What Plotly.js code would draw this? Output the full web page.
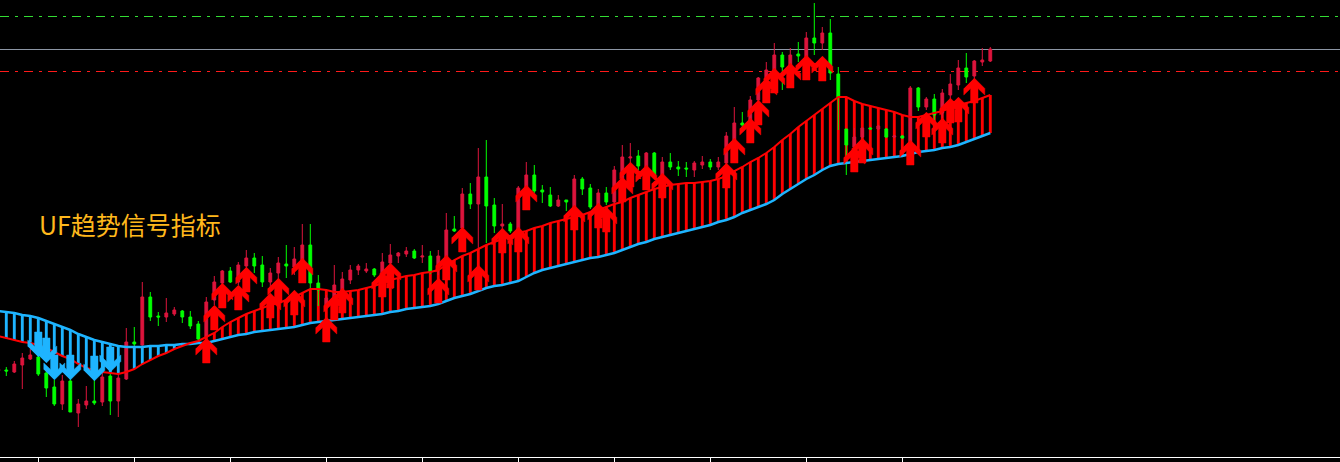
<!DOCTYPE html>
<html><head><meta charset="utf-8">
<script src="https://cdn.plot.ly/plotly-3.0.1.min.js"></script>
<style>html,body{margin:0;padding:0;background:#000;overflow:hidden}#chart{width:1340px;height:462px}</style>
</head><body><div id="chart"></div>
<script>
// ---- data (price units) ----
const open  = [86,87,85,92,98,100,84,70,53,76,44,52,56,55,81,56,78,115,112,160,141,140,143,146,140,133,120,157,174,186,175,191,199,192,175,184,193,190,195,212,174,152,157,165,177,187,186,188,172,194,201,203,206,200,201,189,197,228,229,263,253,280,252,231,233,227,265,282,267,262,251,257,247,278,269,252,264,255,277,299,301,290,304,282,295,290,289,287,292,295,290,294,317,334,334,357,367,385,402,390,403,399,419,414,424,383,328,310,320,329,328,328,320,321,310,369,350,358,344,362,372,389,381,395,396];
const high  = [89,90,96,104,108,107,89,77,82,82,58,71,82,84,84,84,129,130,175,165,145,159,150,147,146,136,160,181,187,190,195,207,204,201,189,200,212,210,233,233,182,162,192,185,192,193,194,189,204,213,205,210,208,212,206,207,244,241,269,274,309,317,259,253,235,271,295,292,272,270,262,257,282,280,273,268,270,291,312,314,307,305,305,300,304,296,295,296,301,298,300,325,350,345,361,380,395,414,405,409,415,425,454,430,438,390,328,329,329,330,332,329,322,322,371,370,360,363,368,383,397,404,397,409,410];
const low   = [85,81,84,68,97,81,60,51,47,45,30,48,52,51,42,40,77,111,111,136,131,135,141,134,128,117,117,152,172,174,172,189,184,170,169,177,179,182,191,167,151,149,152,161,173,182,184,180,170,189,194,200,198,194,183,182,195,225,227,248,209,214,224,227,224,222,262,264,254,250,250,246,245,262,248,247,252,252,272,287,287,285,279,277,287,281,280,280,288,287,287,292,312,327,331,353,362,382,367,387,395,395,402,407,377,327,282,307,317,327,327,319,319,318,307,346,347,337,339,357,367,374,377,391,395];
const close = [88,86,93,99,102,83,69,53,76,45,53,56,54,80,56,79,115,113,160,140,140,144,147,140,131,118,155,175,186,175,192,199,191,175,184,194,191,198,212,174,167,159,172,178,187,191,188,182,195,202,204,206,199,201,185,201,227,226,263,253,280,251,231,233,226,269,282,266,265,251,257,255,278,268,250,264,255,287,300,300,291,304,282,295,290,288,288,294,295,290,295,321,334,332,357,379,387,402,390,402,401,419,414,424,384,360,312,320,329,328,331,320,321,319,369,350,358,342,364,373,389,380,396,397,408];
const fastMA = [121,119,117,115,114,112,109,105,101,98,93,89,87,85,84,83,85,88,93,97,101,104,108,111,114,116,120,124,130,135,139,143,146,149,152,154,157,160,164,168,168,167,165,165,166,167,169,171,174,177,179,181,182,184,185,187,192,197,201,204,208,212,215,218,221,224,226,229,231,234,236,238,240,242,245,247,250,253,255,259,262,265,268,270,272,273,274,274,275,276,278,281,286,290,295,299,304,310,317,323,330,336,342,348,354,360,360,356,353,351,349,347,345,342,340,340,342,344,346,349,352,354,356,359,362];
const slowMA = [146,145,144,142,141,139,136,133,130,127,123,120,117,115,113,111,110,110,110,111,111,112,112,113,113,114,114,116,118,120,122,123,125,126,127,128,129,130,132,134,135,136,137,138,139,140,141,142,143,145,146,148,149,150,151,153,156,159,161,163,166,169,171,172,174,176,180,184,187,189,191,193,195,197,199,200,202,204,207,210,213,215,218,220,222,224,226,228,230,232,235,237,240,244,247,250,253,257,263,268,273,278,282,287,291,293,294,295,296,297,298,299,300,301,303,305,306,307,309,310,312,315,318,321,324];
const buyBar   = [26,27,28,30,31,34,35,37,38,41,42,43,48,49,55,56,58,60,63,65,66,72,75,76,78,79,81,83,91,92,94,95,96,97,99,101,103,107,108,114,116,118,119,120,122];
const buyPrice = [119,152,174,172,190,164,179,167,199,140,162,169,185,194,179,202,230,192,229,230,272,252,254,250,280,295,292,284,294,319,339,357,379,389,394,402,401,310,319,317,345,339,359,360,379];
const sellBar   = [5,6,7,9,12,14];
const sellPrice = [100,94,77,77,76,85];
const levelPrices = [440.5, 407.5, 385.5];
const tickBars = [5,17,29,41,53,65,77,89,101,113];
const labelText = 'UF趋势信号指标';

// ---- layout geometry ----
const W = 1340, PH = 457;
const xRange = [0.2125, 167.7125];
const yRange = [0, 457];
const ux = (xRange[1]-xRange[0])/W, uy = (yRange[1]-yRange[0])/PH;
const bars = open.map((_, i) => i);

const RED = '#FF0000', BLUE = '#1EB4FF', UP = '#DC143C', DOWN = '#00FF00';

// hatch between the two averages
const hBase = fastMA.map((f, i) => Math.min(f, slowMA[i]));
const hLen  = fastMA.map((f, i) => Math.abs(f - slowMA[i]));
const hCol  = fastMA.map((f, i) => f >= slowMA[i] ? RED : BLUE);

// arrow outline in screen pixels (tip at origin, +y pointing away from tip)
const ARROW = [[0,0],[10.5,10.5],[10.5,17],[3.7,10.5],[3.7,25],[-3.7,25],[-3.7,10.5],[-10.5,17],[-10.5,10.5]];
function arrows(bIdx, tips, dir) {
  const xs = [], ys = [];
  bIdx.forEach((b, k) => {
    ARROW.forEach(p => { xs.push(b + p[0]*ux); ys.push(tips[k] - dir*p[1]*uy); });
    xs.push(null); ys.push(null);
  });
  return {xs, ys};
}
const upA = arrows(buyBar, buyPrice, 1);
const dnA = arrows(sellBar, sellPrice, -1);

const traces = [
  {type:'bar', x:bars, y:hLen, base:hBase, width:0.36, marker:{color:hCol, line:{width:0}}, hoverinfo:'skip'},
  {type:'candlestick', x:bars, open, high, low, close,
   increasing:{line:{color:UP, width:1}, fillcolor:UP},
   decreasing:{line:{color:DOWN, width:1}, fillcolor:DOWN},
   whiskerwidth:0, hoverinfo:'skip'},
  {type:'scatter', mode:'lines', x:bars, y:slowMA, line:{color:BLUE, width:2.5}, hoverinfo:'skip'},
  {type:'scatter', mode:'lines', x:bars, y:fastMA, line:{color:RED, width:2}, hoverinfo:'skip'},
  {type:'scatter', mode:'lines', x:upA.xs, y:upA.ys, fill:'toself', fillcolor:RED, line:{color:RED, width:0.5}, hoverinfo:'skip'},
  {type:'scatter', mode:'lines', x:dnA.xs, y:dnA.ys, fill:'toself', fillcolor:BLUE, line:{color:BLUE, width:0.5}, hoverinfo:'skip'}
];

const levelStyle = [
  {color:'#33DD33', dash:'9px,6px,3px,6px'},
  {color:'#8C96A5', dash:'solid'},
  {color:'#FF1A1A', dash:'9px,6px,3px,6px'}
];
const shapes = levelPrices.map((p, k) => ({type:'line', xref:'paper', x0:0, x1:1, yref:'y', y0:p, y1:p,
  line:{color:levelStyle[k].color, width:1, dash:levelStyle[k].dash}, layer:'below'}));

const layout = {
  width:1340, height:462, margin:{l:0, r:0, t:0, b:5, pad:0},
  paper_bgcolor:'#000', plot_bgcolor:'#000', showlegend:false, hovermode:false,
  boxgap:0.5,
  xaxis:{range:xRange, rangeslider:{visible:false}, showgrid:false, zeroline:false,
    showline:true, linecolor:'#FFFFFF', linewidth:1, ticks:'outside', ticklen:5, tickwidth:1,
    tickcolor:'#FFFFFF', tickvals:tickBars, showticklabels:false, fixedrange:true},
  yaxis:{range:yRange, showgrid:false, zeroline:false, showline:false, showticklabels:false, ticks:'', fixedrange:true},
  shapes,
  annotations:[{text:labelText, xref:'paper', yref:'paper', x:37/W, y:(PH-224)/PH,
    xanchor:'left', yanchor:'middle', showarrow:false,
    font:{family:'Noto Sans CJK SC, Noto Sans, sans-serif', size:25, color:'#FFB81C'}}]
};
Plotly.newPlot('chart', traces, layout, {staticPlot:true, displayModeBar:false});
</script>
</body></html>
